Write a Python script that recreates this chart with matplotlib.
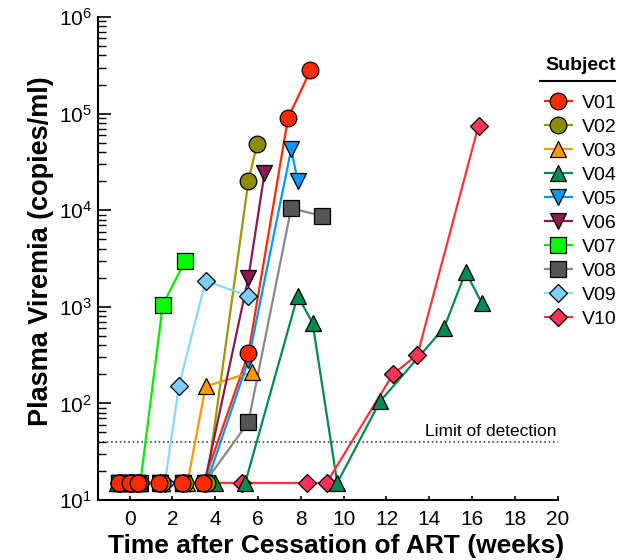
import matplotlib
matplotlib.use("Agg")
import matplotlib.pyplot as plt
from matplotlib.lines import Line2D
from matplotlib.ticker import LogLocator, FixedLocator, NullLocator, LogFormatterSciNotation

plt.rcParams['font.family'] = ['Liberation Sans', 'DejaVu Sans']
plt.rcParams['mathtext.fontset'] = 'custom'
plt.rcParams['mathtext.rm'] = 'Liberation Sans'
plt.rcParams['mathtext.it'] = 'Liberation Sans:italic'
plt.rcParams['mathtext.bf'] = 'Liberation Sans:bold'

# ---- data (weeks after cessation, copies/ml; 15 = below limit) ----
subjects = ["V01", "V02", "V03", "V04", "V05", "V06", "V07", "V08", "V09", "V10"]

v01_wk = [-0.5, 0.0, 0.4, 1.35, 2.45, 3.45, 5.55, 7.4, 8.45]
v01_val = [15, 15, 15, 15, 15, 15, 330, 90000, 280000]

v02_wk = [-0.4, 0.1, 0.5, 1.5, 2.6, 3.6, 5.55, 5.95]
v02_val = [15, 15, 15, 15, 15, 15, 20000, 48000]

v03_wk = [-0.4, 0.1, 0.5, 1.5, 2.7, 3.55, 5.7]
v03_val = [15, 15, 15, 15, 15, 150, 210]

v04_wk = [-0.6, 0.05, 0.5, 1.45, 2.5, 4.0, 5.4, 7.85, 8.55, 9.7, 11.7, 14.7, 15.7, 16.45]
v04_val = [15, 15, 15, 15, 15, 15, 15, 1300, 680, 15, 105, 610, 2300, 1100]

v05_wk = [-0.5, 0.0, 0.4, 1.4, 2.5, 3.6, 5.55, 7.55, 7.85]
v05_val = [15, 15, 15, 15, 15, 15, 280, 43000, 20000]

v06_wk = [-0.5, 0.0, 0.4, 1.4, 2.5, 3.5, 5.55, 6.3]
v06_val = [15, 15, 15, 15, 15, 15, 2000, 24000]

v07_wk = [-0.5, 0.0, 0.5, 1.55, 2.6]
v07_val = [15, 15, 15, 1050, 3000]

v08_wk = [-0.5, 0.0, 0.4, 1.4, 2.5, 3.5, 5.55, 7.55, 9.0]
v08_val = [15, 15, 15, 15, 15, 15, 64, 10500, 8700]

v09_wk = [-0.5, 0.0, 0.4, 1.65, 2.3, 3.55, 5.55]
v09_val = [15, 15, 15, 15, 150, 1850, 1300]

v10_wk = [-0.5, 0.0, 0.4, 1.4, 2.5, 3.5, 5.25, 8.3, 9.2, 12.3, 13.45, 16.3]
v10_val = [15, 15, 15, 15, 15, 15, 15, 15, 15, 200, 320, 75000]

limit_of_detection = 40
x_ticks = [0, 2, 4, 6, 8, 10, 12, 14, 16, 18, 20]

series_wk = [v01_wk, v02_wk, v03_wk, v04_wk, v05_wk, v06_wk, v07_wk, v08_wk, v09_wk, v10_wk]
series_val = [v01_val, v02_val, v03_val, v04_val, v05_val, v06_val, v07_val, v08_val, v09_val, v10_val]

# ---- styles ----
markers = ['o', 'o', '^', '^', 'v', 'v', 's', 's', 'D', 'D']
msizes = [12, 12, 12, 12, 12, 12, 11, 11, 9.3, 9.3]
faces = ['#FF2A00', '#8C8C00', '#FF9900', '#008C50', '#0099FF', '#8B1A4F',
         '#00FF00', '#555555', '#77D0FF', '#FF3355']
lines = ['#FF2A00', '#999900', '#FF9900', '#008C50', '#0099FF', '#8B1A4F',
         '#00EE00', '#888888', '#88D8FF', '#FF3340']

fig = plt.figure(figsize=(6.19, 5.6), dpi=100)
ax = fig.add_axes([97.5 / 619, 1 - 500 / 560, (557.7 - 97.5) / 619, (500 - 17) / 560])

for i in range(len(subjects)):
    ax.plot(series_wk[i], series_val[i], '-', color=lines[i], lw=1.6, zorder=2)
for i in reversed(range(len(subjects))):
    ax.plot(series_wk[i], series_val[i], linestyle='none', marker=markers[i],
            ms=msizes[i], mfc=faces[i], mec='black', mew=0.9, zorder=3 + (10 - i))

ax.axhline(limit_of_detection, color='#444444', lw=1.2, ls=(0, (1, 1.6)), zorder=1)
ax.text(19.95, limit_of_detection * 1.08, "Limit of detection", ha='right', va='bottom',
        fontsize=12.5)

ax.set_yscale('log')
ax.set_ylim(10, 1e6)
ax.set_xlim(-1.5, 20)
ax.xaxis.set_major_locator(FixedLocator(x_ticks))
ax.xaxis.set_minor_locator(NullLocator())
ax.yaxis.set_major_locator(LogLocator(base=10, numticks=10))
ax.yaxis.set_minor_locator(LogLocator(base=10, subs=range(2, 10), numticks=50))
ax.yaxis.set_major_formatter(LogFormatterSciNotation())

ax.tick_params(axis='y', which='major', direction='in', length=9.5, width=1.2, labelsize=15, pad=4)
ax.tick_params(axis='y', which='minor', direction='in', length=6, width=1.0)
ax.tick_params(axis='x', which='major', direction='in', length=3, width=1.2, labelsize=15, pad=7)

for s in ['top', 'right']:
    ax.spines[s].set_visible(False)
for s in ['left', 'bottom']:
    ax.spines[s].set_linewidth(1.5)

ax.set_ylabel("Plasma Viremia (copies/ml)", fontsize=19.5, fontweight='bold', labelpad=3.5, y=0.515)
ax.set_xlabel("Time after Cessation of ART (weeks)", fontsize=19, fontweight='bold', labelpad=4, x=0.519)

handles = [Line2D([], [], color=lines[i], lw=1.6, marker=markers[i], ms=msizes[i],
                  mfc=faces[i], mec='black', mew=0.9) for i in range(len(subjects))]
leg = ax.legend(handles, subjects, loc='upper left', bbox_to_anchor=(544.5 / 619, 1 - 57.5 / 560),
                bbox_transform=fig.transFigure, frameon=False, fontsize=14,
                title="Subject", title_fontproperties={'weight': 'bold', 'size': 14},
                handlelength=1.4, handletextpad=0.5, labelspacing=0.33,
                borderpad=0, borderaxespad=0)
leg._legend_box.sep = 14
fig.add_artist(Line2D([540 / 619, 615 / 619], [1 - 80.7 / 560, 1 - 80.7 / 560],
                      color='black', lw=1.5, transform=fig.transFigure))

fig.savefig("out.png", dpi=100)
